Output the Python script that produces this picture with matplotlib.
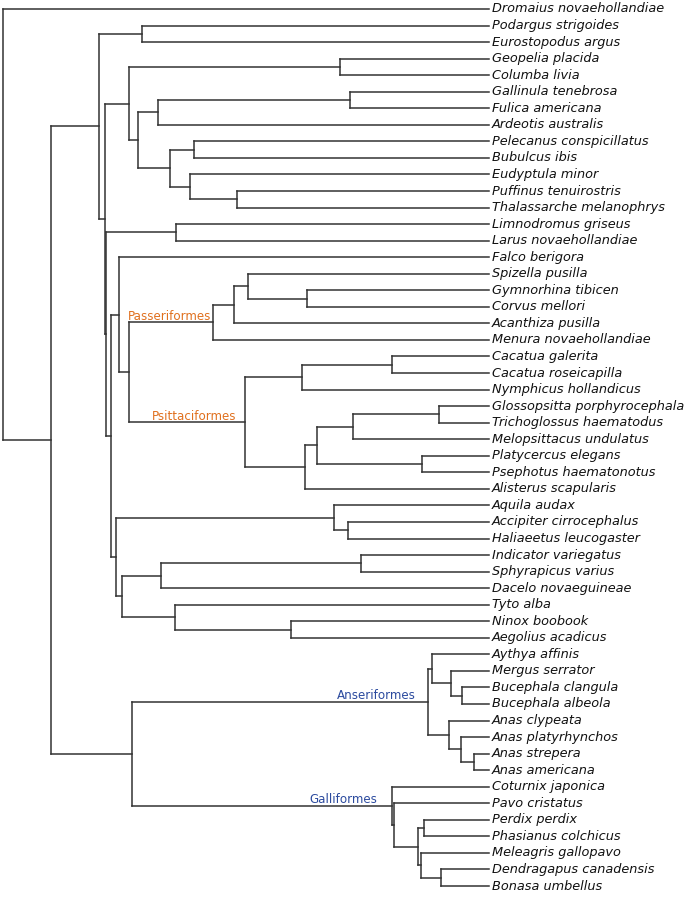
import matplotlib
matplotlib.use('Agg')
import matplotlib.pyplot as plt

# node ages (arbitrary time units, root = 100, tips = 0)
ROOT_AGE = 100

caprimulgi = (71.4, ["Podargus strigoides", "Eurostopodus argus"])
columbaves = (74.0, [
    (30.7, ["Geopelia placida", "Columba livia"]),
    (72.1, [
        (68.1, [(28.6, ["Gallinula tenebrosa", "Fulica americana"]), "Ardeotis australis"]),
        (65.5, [
            (60.6, ["Pelecanus conspicillatus", "Bubulcus ibis"]),
            (61.5, ["Eudyptula minor", (51.8, ["Puffinus tenuirostris", "Thalassarche melanophrys"])]),
        ]),
    ]),
])
charadrii = (64.4, ["Limnodromus griseus", "Larus novaehollandiae"])
passeriformes = (56.8, [
    (52.4, [(49.6, ["Spizella pusilla", (37.4, ["Gymnorhina tibicen", "Corvus mellori"])]),
            "Acanthiza pusilla"]),
    "Menura novaehollandiae",
], "Passeriformes")
psittaciformes = (50.1, [
    (38.4, [(20.0, ["Cacatua galerita", "Cacatua roseicapilla"]), "Nymphicus hollandicus"]),
    (37.8, [
        (35.4, [
            (28.0, [(10.3, ["Glossopsitta porphyrocephala", "Trichoglossus haematodus"]),
                    "Melopsittacus undulatus"]),
            (13.8, ["Platycercus elegans", "Psephotus haematonotus"]),
        ]),
        "Alisterus scapularis",
    ]),
], "Psittaciformes")
accipitres = (31.8, ["Aquila audax", (28.9, ["Accipiter cirrocephalus", "Haliaeetus leucogaster"])])
coraciimorphae = (75.5, [
    (67.4, [(26.4, ["Indicator variegatus", "Sphyrapicus varius"]), "Dacelo novaeguineae"]),
    (64.6, ["Tyto alba", (40.7, ["Ninox boobook", "Aegolius acadicus"])]),
])
landbirds = (77.8, [
    (76.1, ["Falco berigora", (74.0, [passeriformes, psittaciformes])]),
    (76.6, [accipitres, coraciimorphae]),
])
anseriformes = (12.6, [
    (11.8, ["Aythya affinis", (7.8, ["Mergus serrator", (5.6, ["Bucephala clangula", "Bucephala albeola"])])]),
    (8.3, ["Anas clypeata", (5.8, ["Anas platyrhynchos", (3.0, ["Anas strepera", "Anas americana"])])]),
], "Anseriformes")
galliformes = (20.0, [
    "Coturnix japonica",
    (19.5, ["Pavo cristatus",
            (14.5, [(13.3, ["Perdix perdix", "Phasianus colchicus"]),
                    (13.9, ["Meleagris gallopavo", (9.8, ["Dendragapus canadensis", "Bonasa umbellus"])])])]),
], "Galliformes")

tree = (ROOT_AGE, [
    "Dromaius novaehollandiae",
    (90.1, [
        (80.1, [caprimulgi, (79.0, [columbaves, (78.8, [charadrii, landbirds])])]),
        (73.5, [anseriformes, galliformes]),
    ]),
])

# where the clade names end (age) and their colours
label_end = {"Passeriformes": 57.1, "Psittaciformes": 51.9, "Anseriformes": 15.0, "Galliformes": 23.0}
label_color = {"Passeriformes": "#E0701E", "Psittaciformes": "#E0701E",
               "Anseriformes": "#2B4A9E", "Galliformes": "#2B4A9E"}

leaves = []
segs = []
clades = []


def layout(node):
    if isinstance(node, str):
        leaves.append(node)
        return ROOT_AGE, len(leaves) - 1
    age, kids = node[0], node[1]
    pts = [layout(k) for k in kids]
    x = ROOT_AGE - age
    y = (pts[0][1] + pts[-1][1]) / 2
    segs.append(([x, x], [pts[0][1], pts[-1][1]]))
    for cx, cy in pts:
        segs.append(([x, cx], [cy, cy]))
    if len(node) > 2:
        clades.append((node[2], y))
    return x, y


layout(tree)

fig = plt.figure(figsize=(6.85, 8.97), dpi=100)
ax = fig.add_axes([2.7 / 685, 1 - 886 / 897, 486.3 / 685, 877 / 897])
ax.set_xlim(0, ROOT_AGE)
ax.set_ylim(len(leaves) - 1, 0)
ax.axis('off')

for xs, ys in segs:
    ax.plot(xs, ys, color='#333333', lw=1.1, solid_capstyle='projecting', clip_on=False)

for i, name in enumerate(leaves):
    ax.annotate(name, xy=(ROOT_AGE, i), xytext=(2, 0), textcoords='offset points',
                va='center', ha='left', fontsize=9.3, style='italic', color='#111111',
                family='DejaVu Sans', annotation_clip=False)

for name, y in clades:
    ax.annotate(name, xy=(ROOT_AGE - label_end[name], y), xytext=(0, 4.3), textcoords='offset points',
                va='center', ha='right', fontsize=8.6, color=label_color[name],
                family='DejaVu Sans', annotation_clip=False)

fig.savefig('out.png', dpi=100)
